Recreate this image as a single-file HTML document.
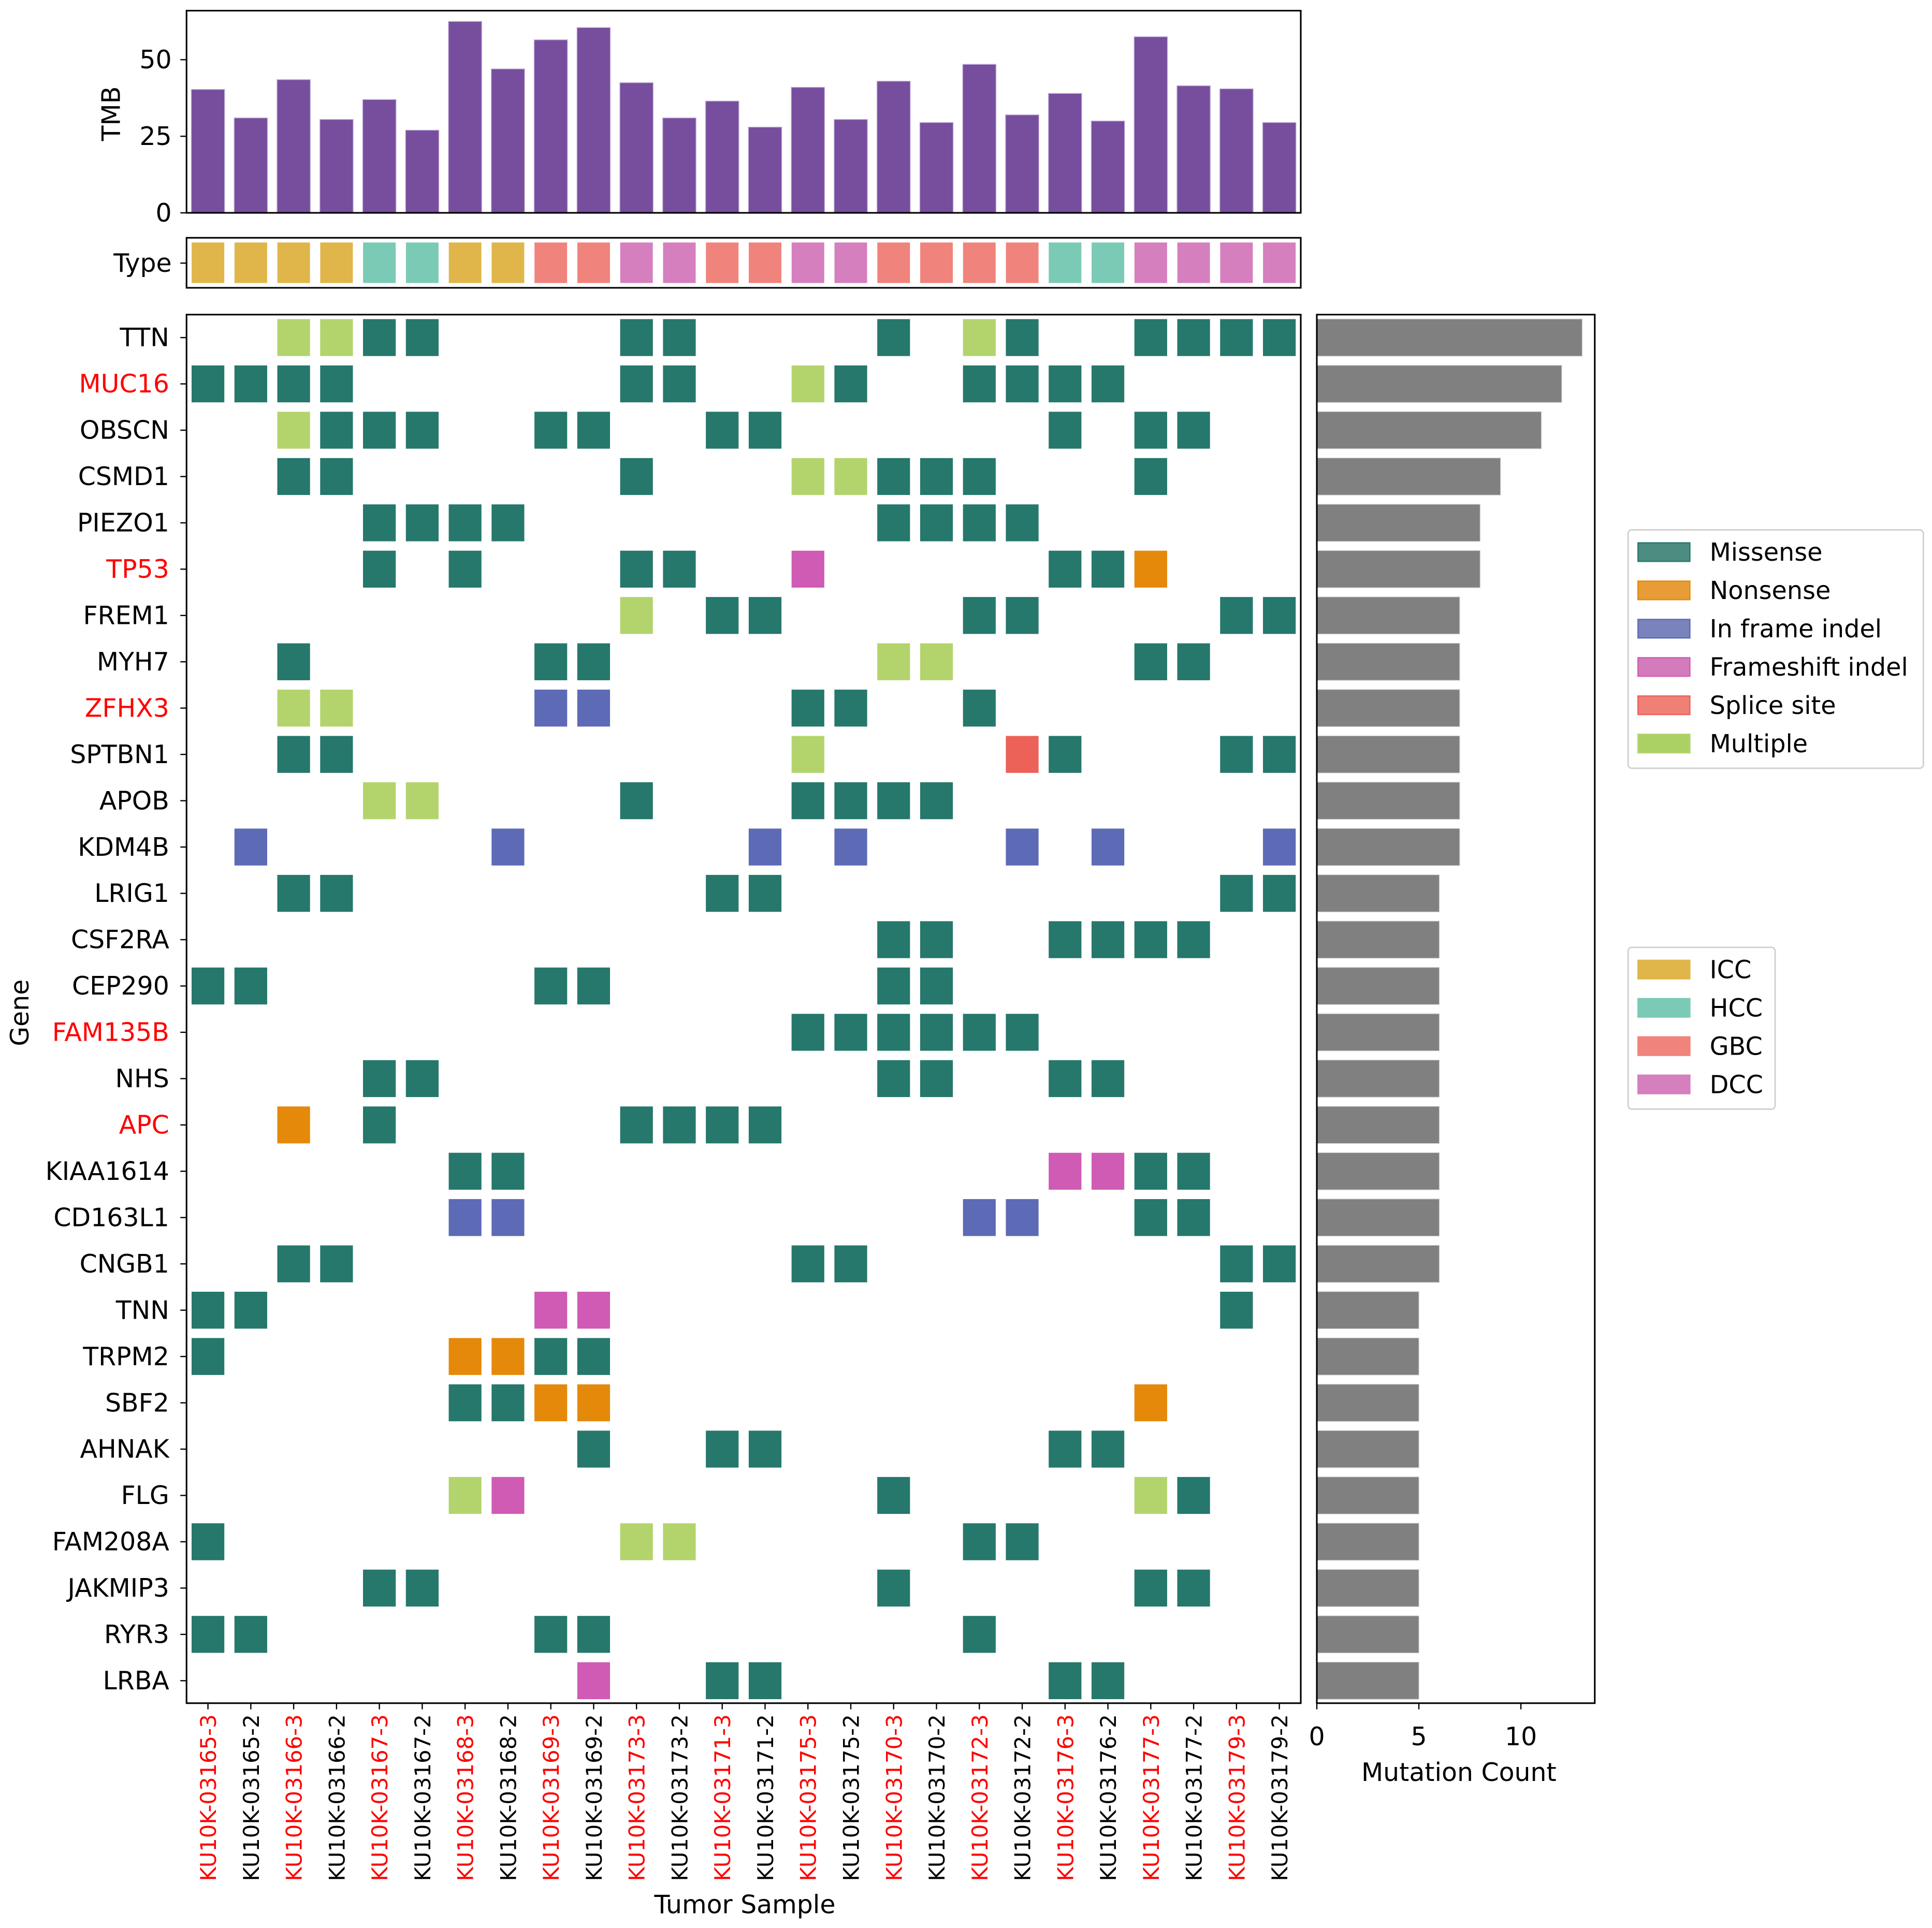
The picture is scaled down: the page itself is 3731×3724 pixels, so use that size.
<!DOCTYPE html>
<html><head><meta charset="utf-8"><style>
html,body{margin:0;padding:0;background:#fff}
svg{display:block}
text{font-family:"DejaVu Sans","Liberation Sans",sans-serif;fill:#000}
</style></head><body>
<svg id="chart" xmlns="http://www.w3.org/2000/svg" width="3731" height="3724" viewBox="0 0 1564 1561">
<g id="tmb"></g>
<g id="type"></g>
<g id="main"></g>
<g id="right"></g>
<g id="legend"></g>
</svg>
<script>
const samples = ["KU10K-03165-3","KU10K-03165-2","KU10K-03166-3","KU10K-03166-2","KU10K-03167-3","KU10K-03167-2","KU10K-03168-3","KU10K-03168-2","KU10K-03169-3","KU10K-03169-2","KU10K-03173-3","KU10K-03173-2","KU10K-03171-3","KU10K-03171-2","KU10K-03175-3","KU10K-03175-2","KU10K-03170-3","KU10K-03170-2","KU10K-03172-3","KU10K-03172-2","KU10K-03176-3","KU10K-03176-2","KU10K-03177-3","KU10K-03177-2","KU10K-03179-3","KU10K-03179-2"];
const tmbValues = [40.3,31,43.5,30.5,37,27,62.5,47,56.5,60.5,42.5,31,36.5,28,41,30.5,43,29.5,48.5,32,39,30,57.5,41.5,40.5,29.5];
const tmbTicks = [0,25,50];
const sampleTypes = ["ICC","ICC","ICC","ICC","HCC","HCC","ICC","ICC","GBC","GBC","DCC","DCC","GBC","GBC","DCC","DCC","GBC","GBC","GBC","GBC","HCC","HCC","DCC","DCC","DCC","DCC"];
const genes = ["TTN","MUC16","OBSCN","CSMD1","PIEZO1","TP53","FREM1","MYH7","ZFHX3","SPTBN1","APOB","KDM4B","LRIG1","CSF2RA","CEP290","FAM135B","NHS","APC","KIAA1614","CD163L1","CNGB1","TNN","TRPM2","SBF2","AHNAK","FLG","FAM208A","JAKMIP3","RYR3","LRBA"];
const redGenes = ["MUC16","TP53","ZFHX3","FAM135B","APC"];
const mutationCounts = [13,12,11,9,8,8,7,7,7,7,7,7,6,6,6,6,6,6,6,6,6,5,5,5,5,5,5,5,5,5];
const countTicks = [0,5,10];
// per gene: "col+code" (M missense, N nonsense, I in-frame, F frameshift, S splice, X multiple)
const mutations = [
"2X 3X 4M 5M 10M 11M 16M 18X 19M 22M 23M 24M 25M",
"0M 1M 2M 3M 10M 11M 14X 15M 18M 19M 20M 21M",
"2X 3M 4M 5M 8M 9M 12M 13M 20M 22M 23M",
"2M 3M 10M 14X 15X 16M 17M 18M 22M",
"4M 5M 6M 7M 16M 17M 18M 19M",
"4M 6M 10M 11M 14F 20M 21M 22N",
"10X 12M 13M 18M 19M 24M 25M",
"2M 8M 9M 16X 17X 22M 23M",
"2X 3X 8I 9I 14M 15M 18M",
"2M 3M 14X 19S 20M 24M 25M",
"4X 5X 10M 14M 15M 16M 17M",
"1I 7I 13I 15I 19I 21I 25I",
"2M 3M 12M 13M 24M 25M",
"16M 17M 20M 21M 22M 23M",
"0M 1M 8M 9M 16M 17M",
"14M 15M 16M 17M 18M 19M",
"4M 5M 16M 17M 20M 21M",
"2N 4M 10M 11M 12M 13M",
"6M 7M 20F 21F 22M 23M",
"6I 7I 18I 19I 22M 23M",
"2M 3M 14M 15M 24M 25M",
"0M 1M 8F 9F 24M",
"0M 6N 7N 8M 9M",
"6M 7M 8N 9N 22N",
"9M 12M 13M 20M 21M",
"6X 7F 16M 22X 23M",
"0M 10X 11X 18M 19M",
"4M 5M 16M 22M 23M",
"0M 1M 8M 9M 18M",
"9F 12M 13M 20M 21M"];
const mutNames = ["Missense","Nonsense","In frame indel","Frameshift indel","Splice site","Multiple"];
const mutCodes = ["M","N","I","F","S","X"];
const mutColors = ["#25786b","#e5890a","#5d6ab5","#cf5bb5","#ec6158","#b3d46c"];
const legMutColors = ["#4b8d80","#e89c36","#7a83bc","#d47bbb","#ef8075","#abd064"];
const typeNames = ["ICC","HCC","GBC","DCC"];
const typeColors = ["#e0b64a","#7bcab6","#f0837b","#d57fbe"];

const NS="http://www.w3.org/2000/svg";
function mk(parent,tag,attrs,txt){const e=document.createElementNS(NS,tag);for(const k in attrs)e.setAttribute(k,attrs[k]);if(txt!==undefined)e.textContent=txt;parent.appendChild(e);return e;}
const FS=20.5;
const L=151,R=1053,nC=samples.length,cw=(R-L)/nC;
const cx=i=>L+cw*(i+0.5);
const rowY=i=>273.3+i*37.5;
// TMB
const tg=document.getElementById('tmb');
const tY0=172.3,tK=2.48;const ty=v=>tY0-v*tK;
tmbValues.forEach((v,i)=>{const r=mk(tg,'rect',{x:cx(i)-13.5,y:ty(v),width:27,height:v*tK,fill:'#774e9e',stroke:'#c6b4dc','stroke-width':0.6});

});
mk(tg,'rect',{x:L,y:8.6,width:R-L,height:tY0-8.6,fill:'none',stroke:'#000','stroke-width':1.3});
tmbTicks.forEach(t=>{mk(tg,'line',{x1:L-5,x2:L,y1:ty(t),y2:ty(t),stroke:'#000','stroke-width':1});
const e=mk(tg,'text',{x:L-12,y:ty(t)+7,'text-anchor':'end','font-size':FS},String(t));

});
const tl=mk(tg,'text',{x:0,y:0,'font-size':FS,'text-anchor':'middle',transform:'translate(97,92) rotate(-90)'},'TMB');

// Type
const yg=document.getElementById('type');
sampleTypes.forEach((t,i)=>{const r=mk(yg,'rect',{x:cx(i)-13.5,y:196,width:27,height:33.4,fill:typeColors[typeNames.indexOf(t)],stroke:'#fff','stroke-width':0.6});

});
mk(yg,'rect',{x:L,y:192.5,width:R-L,height:40.5,fill:'none',stroke:'#000','stroke-width':1.3});
mk(yg,'line',{x1:L-5,x2:L,y1:213,y2:213,stroke:'#000'});
const tyl=mk(yg,'text',{x:L-12,y:220,'text-anchor':'end','font-size':FS},'Type');

// Main
const mg=document.getElementById('main');
mutations.forEach((row,gi)=>{row.split(' ').forEach(tok=>{const c=parseInt(tok);const code=tok.slice(-1);
const r=mk(mg,'rect',{x:cx(c)-13.5,y:rowY(gi)-15.2,width:27,height:30.4,fill:mutColors[mutCodes.indexOf(code)],stroke:'#fff','stroke-width':0.5});

});});
const MT=254.7,MB=1379;
mk(mg,'rect',{x:L,y:MT,width:R-L,height:MB-MT,fill:'none',stroke:'#000','stroke-width':1.3});
genes.forEach((g,i)=>{mk(mg,'line',{x1:L-5,x2:L,y1:rowY(i),y2:rowY(i),stroke:'#000'});
const e=mk(mg,'text',{x:L-14,y:rowY(i)+7,'text-anchor':'end','font-size':FS,style:'fill:'+(redGenes.includes(g)?'#ff0000':'#000')},g);

});
samples.forEach((s,i)=>{mk(mg,'line',{x1:cx(i),x2:cx(i),y1:MB,y2:MB+5,stroke:'#000'});
const red=s.endsWith('-3');
const e=mk(mg,'text',{x:0,y:0,'text-anchor':'end','font-size':17.5,transform:`translate(${cx(i)+6.5},1388) rotate(-90)`,style:'fill:'+(red?'#ff0000':'#000')},s);

});
const gl=mk(mg,'text',{x:0,y:0,'font-size':FS,'text-anchor':'middle',transform:'translate(23,820) rotate(-90)'},'Gene');

const sl=mk(mg,'text',{x:603,y:1549,'font-size':FS,'text-anchor':'middle'},'Tumor Sample');

// Right
const rg=document.getElementById('right');
const RL=1066,RR=1291,rK=16.52;const rx=v=>RL+v*rK;
mutationCounts.forEach((v,i)=>{const r=mk(rg,'rect',{x:RL,y:rowY(i)-15,width:v*rK,height:30,fill:'#808080',stroke:'#c8c8c8','stroke-width':0.5});

});
mk(rg,'rect',{x:RL,y:MT,width:RR-RL,height:MB-MT,fill:'none',stroke:'#000','stroke-width':1.3});
countTicks.forEach(t=>{mk(rg,'line',{x1:rx(t),x2:rx(t),y1:MB,y2:MB+5,stroke:'#000'});
const e=mk(rg,'text',{x:rx(t),y:1413,'text-anchor':'middle','font-size':FS},String(t));

});
const ml=mk(rg,'text',{x:1181,y:1442,'font-size':FS,'text-anchor':'middle'},'Mutation Count');

// Legends
const lg=document.getElementById('legend');
const b1=mk(lg,'rect',{x:1318,y:429,width:239,height:193,rx:3,fill:'#fff',stroke:'#d0d0d0','stroke-width':1.2});

mutNames.forEach((n,i)=>{const y=447+i*31;
mk(lg,'rect',{x:1326,y:y-7.5,width:42,height:15,fill:legMutColors[i],stroke:mutColors[i],'stroke-width':1});
const e=mk(lg,'text',{x:1384,y:y+7,'font-size':20},n);

});
const b2=mk(lg,'rect',{x:1318,y:767,width:119,height:131,rx:3,fill:'#fff',stroke:'#d0d0d0','stroke-width':1.2});

typeNames.forEach((n,i)=>{const y=785+i*31;
mk(lg,'rect',{x:1326,y:y-7.5,width:42,height:15,fill:typeColors[i],stroke:typeColors[i],'stroke-width':1});
const e=mk(lg,'text',{x:1384,y:y+7,'font-size':20},n);

});
</script>
</body></html>
